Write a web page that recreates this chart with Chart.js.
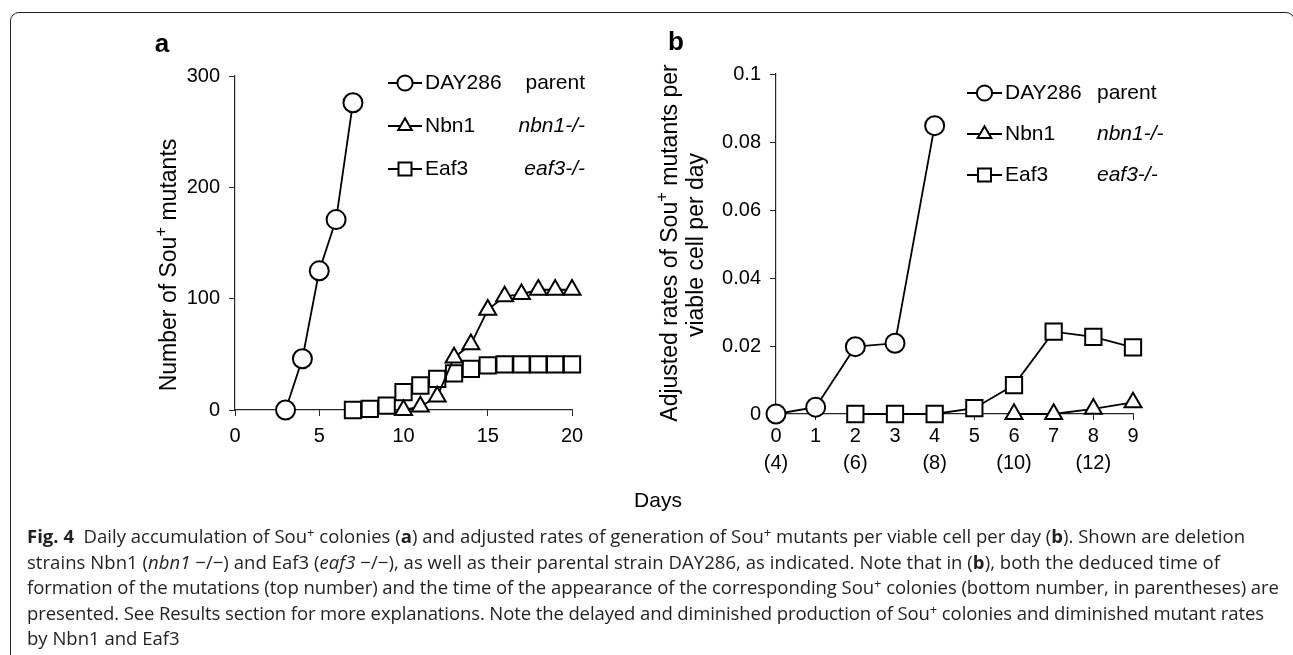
<!DOCTYPE html>
<html>
<head>
<meta charset="utf-8">
<script src="https://cdn.jsdelivr.net/npm/chart.js@4.4.1/dist/chart.umd.min.js"></script>
<style>
  html, body { margin: 0; padding: 0; background: #fff; }
  body { width: 1293px; height: 655px; position: relative; overflow: hidden; }
  #frame { position: absolute; left: 10px; top: 12px; width: 1285px; height: 700px;
           border: 1.2px solid #222; border-radius: 9px; box-sizing: border-box; }
  canvas { position: absolute; top: 0; }
  #cA { left: 0; }
  #cB { left: 620px; }
  #caption { position: absolute; left: 27px; top: 523px; font-family: "Open Sans", "Noto Sans", sans-serif;
             font-size: 17px; line-height: 25.5px; color: #231f20; }
  #caption div { white-space: nowrap; }
  #caption b { font-weight: 700; }
  #caption sup { font-size: 0.7em; vertical-align: 0.45em; line-height: 0; }
</style>
</head>
<body>
<div id="frame"></div>
<canvas id="cA" width="620" height="480"></canvas>
<canvas id="cB" width="673" height="530"></canvas>
<div id="caption">
  <div data-w="1218"><b>Fig. 4</b>&nbsp; Daily accumulation of Sou<sup>+</sup> colonies (<b>a</b>) and adjusted rates of generation of Sou<sup>+</sup> mutants per viable cell per day (<b>b</b>). Shown are deletion</div>
  <div data-w="1193">strains Nbn1 (<i>nbn1</i> −/−) and Eaf3 (<i>eaf3</i> −/−), as well as their parental strain DAY286, as indicated. Note that in (<b>b</b>), both the deduced time of</div>
  <div data-w="1252">formation of the mutations (top number) and the time of the appearance of the corresponding Sou<sup>+</sup> colonies (bottom number, in parentheses) are</div>
  <div data-w="1237">presented. See Results section for more explanations. Note the delayed and diminished production of Sou<sup>+</sup> colonies and diminished mutant rates</div>
  <div>by Nbn1 and Eaf3</div>
</div>
<script>
// ---------------- DATA ----------------
// Panel a: number of Sou+ mutants vs day
const parentDaysA = [3, 4, 5, 6, 7];
const parentA     = [0, 46, 125, 171, 276];
const nbn1DaysA   = [10, 11, 12, 13, 14, 15, 16, 17, 18, 19, 20];
const nbn1A       = [0, 3, 12, 47, 59, 90, 102, 104, 108, 108, 108];
const eaf3DaysA   = [7, 8, 9, 10, 11, 12, 13, 14, 15, 16, 17, 18, 19, 20];
const eaf3A       = [0, 1, 4, 16, 22, 28, 33, 37, 40, 41, 41, 41, 41, 41];

// Panel b: adjusted rates per viable cell per day
const parentDaysB = [0, 1, 2, 3, 4];
const parentB     = [0, 0.002, 0.0198, 0.0208, 0.0848];
const nbn1DaysB   = [6, 7, 8, 9];
const nbn1B       = [0, 0, 0.0015, 0.0034];
const eaf3DaysB   = [2, 3, 4, 5, 6, 7, 8, 9];
const eaf3B       = [0, 0, 0, 0.0017, 0.0085, 0.0242, 0.0227, 0.0196];

// Tick labels
const xTicksA = ['0', '5', '10', '15', '20'];
const yTicksA = ['0', '100', '200', '300'];
const xTicksB = ['0', '1', '2', '3', '4', '5', '6', '7', '8', '9'];
const xSubTicksB = ['(4)', '', '(6)', '', '(8)', '', '(10)', '', '(12)', ''];
const yTicksB = ['0', '0.02', '0.04', '0.06', '0.08', '0.1'];

// Series labels
const seriesNames = ['DAY286', 'Nbn1', 'Eaf3'];
const genotypes   = ['parent', 'nbn1-/-', 'eaf3-/-'];
const pointStyles = ['circle', 'triangle', 'rect'];
// --------------------------------------

const FONT = '"Liberation Sans", Arial, sans-serif';
const AXIS = '#262626';
const zip = (xs, ys) => xs.map((x, i) => ({ x: x, y: ys[i] }));
const radii = { circle: 9.5, triangle: 9.8, rect: 11.5 };

function ds(label, data, style) {
  return {
    label, data, clip: false,
    borderColor: '#000', borderWidth: 1.8,
    pointStyle: style, pointRadius: radii[style],
    pointBackgroundColor: '#fff', pointBorderColor: '#000', pointBorderWidth: 2,
    tension: 0, fill: false
  };
}

function fontStr(seg, size) {
  const s = seg.sup ? size * 0.72 : size;
  return (seg.italic ? 'italic ' : '') + (seg.bold ? 'bold ' : '') + s + 'px ' + FONT;
}
function drawRich(ctx, segs, size, x, y, rotate, align) {
  ctx.save();
  ctx.translate(x, y);
  if (rotate) ctx.rotate(-Math.PI / 2);
  const widths = segs.map(s => { ctx.font = fontStr(s, size); return ctx.measureText(s.t).width; });
  const total = widths.reduce((a, b) => a + b, 0);
  let cx = align === 'center' ? -total / 2 : (align === 'right' ? -total : 0);
  ctx.textBaseline = 'alphabetic';
  ctx.textAlign = 'left';
  ctx.fillStyle = '#000';
  segs.forEach((s, i) => {
    ctx.font = fontStr(s, size);
    ctx.fillText(s.t, cx, s.sup ? -size * 0.45 : 0);
    cx += widths[i];
  });
  ctx.restore();
}

function drawLegend(ctx, cfg) {
  seriesNames.forEach((name, i) => {
    const y = cfg.rows[i];
    ctx.save();
    ctx.strokeStyle = '#000';
    ctx.lineWidth = 1.8;
    ctx.beginPath();
    ctx.moveTo(cfg.x0, y); ctx.lineTo(cfg.x1, y); ctx.stroke();
    ctx.fillStyle = '#fff';
    ctx.lineWidth = 2;
    const st = pointStyles[i];
    Chart.helpers.drawPoint(ctx, { pointStyle: st, radius: radii[st] * 0.8, rotation: 0, borderWidth: 2 },
      (cfg.x0 + cfg.x1) / 2, y);
    ctx.restore();
    ctx.save();
    ctx.fillStyle = '#000';
    ctx.textBaseline = 'middle';
    ctx.font = '21px ' + FONT;
    ctx.textAlign = 'left';
    ctx.fillText(name, cfg.x1 + 3, y);
    ctx.font = (i === 0 ? '' : 'italic ') + '21px ' + FONT;
    ctx.textAlign = cfg.gAlign;
    ctx.fillText(genotypes[i], cfg.gx, y);
    ctx.restore();
  });
}

const overlayA = {
  id: 'overlayA',
  afterDraw(chart) {
    const ctx = chart.ctx;
    drawRich(ctx, [{ t: 'a', bold: true }], 26, 162, 52, false, 'center');
    drawRich(ctx, [{ t: 'Number of Sou' }, { t: '+', sup: true }, { t: ' mutants' }], 23, 176, 265, true, 'center');
    drawLegend(ctx, { x0: 388, x1: 422, rows: [83, 126, 169], gx: 585, gAlign: 'right' });
  }
};

const OFFB = 620;
const overlayB = {
  id: 'overlayB',
  afterDraw(chart) {
    const ctx = chart.ctx;
    drawRich(ctx, [{ t: 'b', bold: true }], 26, 676 - OFFB, 50, false, 'center');
    drawRich(ctx, [{ t: 'Adjusted rates of Sou' }, { t: '+', sup: true }, { t: ' mutants per' }], 23, 677 - OFFB, 243, true, 'center');
    drawRich(ctx, [{ t: 'viable cell per day' }], 23, 703 - OFFB, 245, true, 'center');
    drawRich(ctx, [{ t: 'Days' }], 21, 658 - OFFB, 507, false, 'center');
    drawLegend(ctx, { x0: 967 - OFFB, x1: 1002 - OFFB, rows: [93, 134, 175], gx: 1097 - OFFB, gAlign: 'left' });
  }
};

function axisCommon() {
  return {
    grid: { drawOnChartArea: false, drawTicks: true, tickLength: 6, tickColor: AXIS, color: AXIS, lineWidth: 1 },
    border: { display: true, color: AXIS, width: 1.2 }
  };
}

new Chart(document.getElementById('cA'), {
  type: 'line',
  data: {
    datasets: [
      ds(seriesNames[0], zip(parentDaysA, parentA), 'circle'),
      ds(seriesNames[1], zip(nbn1DaysA, nbn1A), 'triangle'),
      ds(seriesNames[2], zip(eaf3DaysA, eaf3A), 'rect')
    ]
  },
  options: {
    responsive: false, animation: false, devicePixelRatio: 1,
    layout: { padding: { left: 175, top: 76, right: 48, bottom: 0 } },
    plugins: { legend: { display: false }, tooltip: { enabled: false } },
    scales: {
      x: Object.assign(axisCommon(), {
        type: 'linear', min: 0, max: 20,
        ticks: { stepSize: 5, color: '#000', padding: 8, maxRotation: 0,
                 font: { family: FONT, size: 20, lineHeight: 1.2 },
                 callback: v => xTicksA[Math.round(v / 5)] },
        afterFit(s) { s.height = 70; }
      }),
      y: Object.assign(axisCommon(), {
        type: 'linear', min: 0, max: 300,
        ticks: { stepSize: 100, color: '#000', padding: 9,
                 font: { family: FONT, size: 20 },
                 callback: v => yTicksA[Math.round(v / 100)] },
        afterFit(s) { s.width = 60; }
      })
    }
  },
  plugins: [overlayA]
});

new Chart(document.getElementById('cB'), {
  type: 'line',
  data: {
    datasets: [
      ds(seriesNames[0], zip(parentDaysB, parentB), 'circle'),
      ds(seriesNames[1], zip(nbn1DaysB, nbn1B), 'triangle'),
      ds(seriesNames[2], zip(eaf3DaysB, eaf3B), 'rect')
    ]
  },
  options: {
    responsive: false, animation: false, devicePixelRatio: 1,
    layout: { padding: { left: 96, top: 74, right: 160, bottom: 50 } },
    plugins: { legend: { display: false }, tooltip: { enabled: false } },
    scales: {
      x: Object.assign(axisCommon(), {
        type: 'linear', min: 0, max: 9,
        ticks: { stepSize: 1, color: '#000', padding: 3, maxRotation: 0,
                 font: { family: FONT, size: 20, lineHeight: 1.35 },
                 callback: v => [xTicksB[Math.round(v)], xSubTicksB[Math.round(v)]] },
        afterFit(s) { s.height = 66; }
      }),
      y: Object.assign(axisCommon(), {
        type: 'linear', min: 0, max: 0.1,
        ticks: { stepSize: 0.02, color: '#000', padding: 9,
                 font: { family: FONT, size: 20 },
                 callback: v => yTicksB[Math.round(v / 0.02)] },
        afterFit(s) { s.width = 60; }
      })
    }
  },
  plugins: [overlayB]
});

// Fit caption lines to reference widths: first scale font size on line 1, then fine-tune per line
(function fitCaption() {
  const cap = document.getElementById('caption');
  const lines = Array.from(cap.querySelectorAll('div[data-w]'));
  const measure = el => {
    el.style.display = 'inline-block';
    const w = el.getBoundingClientRect().width;
    el.style.display = 'block';
    return w;
  };
  const base = 17;
  const w1 = measure(lines[0]);
  const size = base * (+lines[0].dataset.w) / w1;
  cap.style.fontSize = size.toFixed(2) + 'px';
  lines.forEach(el => {
    const target = +el.dataset.w;
    const w = measure(el);
    const n = el.textContent.length;
    el.style.letterSpacing = ((target - w) / n).toFixed(3) + 'px';
  });
})();
</script>
</body>
</html>
